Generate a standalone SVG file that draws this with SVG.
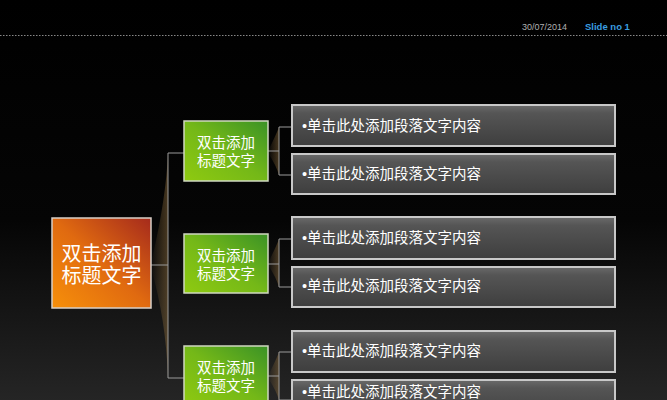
<svg xmlns="http://www.w3.org/2000/svg" width="667" height="400" viewBox="0 0 667 400">
<defs>
<linearGradient id="bg" x1="0" y1="0" x2="0" y2="1">
<stop offset="0" stop-color="#000"/><stop offset="0.55" stop-color="#050505"/><stop offset="1" stop-color="#252525"/>
</linearGradient>
<linearGradient id="org" x1="0" y1="1" x2="1" y2="0">
<stop offset="0" stop-color="#f7900a"/><stop offset="0.5" stop-color="#e06a10"/><stop offset="1" stop-color="#a52a1c"/>
</linearGradient>
<linearGradient id="grn" x1="0" y1="1" x2="1" y2="0">
<stop offset="0" stop-color="#8fca10"/><stop offset="0.5" stop-color="#74b818"/><stop offset="1" stop-color="#3a9226"/>
</linearGradient>
<linearGradient id="gry" x1="0" y1="0" x2="0" y2="1">
<stop offset="0" stop-color="#6a6a6a"/><stop offset="0.2" stop-color="#555"/><stop offset="1" stop-color="#3e3e3e"/>
</linearGradient>
<linearGradient id="glow" x1="0" y1="0" x2="1" y2="0">
<stop offset="0" stop-color="#8a6a3a" stop-opacity="0"/><stop offset="1" stop-color="#8a6a3a" stop-opacity="0.5"/>
</linearGradient>
</defs>
<style>
.t{font-family:"Liberation Sans","Noto Sans CJK SC",sans-serif;fill:#fff;}
.cb{fill:url(#gry);stroke:#c8c8c8;stroke-width:2;}
.gb{fill:url(#grn);stroke:#cfd8c0;stroke-width:1.5;}
.ln{fill:none;stroke:#9a9a9a;stroke-width:1;}
</style>
<rect width="667" height="400" fill="url(#bg)"/>
<g id="header">
<text x="522" y="30" font-family="Liberation Sans, sans-serif" font-size="9" fill="#b0b0b0">30/07/2014</text>
<text x="585" y="30" font-family="Liberation Sans, sans-serif" font-size="9.5" font-weight="bold" fill="#3a9ee0">Slide no 1</text>
<line x1="0" y1="35.5" x2="667" y2="35.5" stroke="#888" stroke-width="1" stroke-dasharray="1.5,1.5"/>
</g>
<g id="glows">
<path d="M151 263 Q166 200 168 153 L168 378 Q166 320 151 268 Z" fill="url(#glow)"/>
<path d="M268 151 Q276 135 279 127 L279 175 Q276 165 268 153 Z" fill="url(#glow)"/>
<path d="M268 263 Q276 247 279 239 L279 287 Q276 277 268 265 Z" fill="url(#glow)"/>
<path d="M268 376 Q276 360 279 352 L279 400 Q276 390 268 378 Z" fill="url(#glow)"/>
</g>
<g id="connectors">
<path class="ln" d="M151 265 H168 M184 153 H168 V378 H184"/>
<path class="ln" d="M268 151 H279 M292 127 H279 V175 H292"/>
<path class="ln" d="M268 264 H279 M292 239 H279 V287 H292"/>
<path class="ln" d="M268 376 H279 M292 352 H279 V400 H292"/>
</g>
<g id="main">
<rect x="52" y="218" width="99" height="90" fill="url(#org)" stroke="#d8d0c8" stroke-width="1.5"/>
<text class="t" x="101.5" y="261" font-size="20" text-anchor="middle">双击添加</text>
<text class="t" x="101.5" y="283" font-size="20" text-anchor="middle">标题文字</text>
</g>
<g id="title1">
<rect class="gb" x="184" y="121" width="84" height="60"/>
<text class="t" x="226" y="148" font-size="14.5" text-anchor="middle">双击添加</text>
<text class="t" x="226" y="165.5" font-size="14.5" text-anchor="middle">标题文字</text>
</g>
<g id="title2">
<rect class="gb" x="184" y="234" width="84" height="59"/>
<text class="t" x="226" y="261" font-size="14.5" text-anchor="middle">双击添加</text>
<text class="t" x="226" y="278.5" font-size="14.5" text-anchor="middle">标题文字</text>
</g>
<g id="title3">
<rect class="gb" x="184" y="346" width="84" height="60"/>
<text class="t" x="226" y="373" font-size="14.5" text-anchor="middle">双击添加</text>
<text class="t" x="226" y="390.5" font-size="14.5" text-anchor="middle">标题文字</text>
</g>
<g id="item1"><rect class="cb" x="292" y="105" width="323" height="41"/><text class="t" x="302" y="131" font-size="14.5">•单击此处添加段落文字内容</text></g>
<g id="item2"><rect class="cb" x="292" y="154" width="323" height="40"/><text class="t" x="302" y="179" font-size="14.5">•单击此处添加段落文字内容</text></g>
<g id="item3"><rect class="cb" x="292" y="217" width="323" height="42"/><text class="t" x="302" y="243" font-size="14.5">•单击此处添加段落文字内容</text></g>
<g id="item4"><rect class="cb" x="292" y="267" width="323" height="40"/><text class="t" x="302" y="291" font-size="14.5">•单击此处添加段落文字内容</text></g>
<g id="item5"><rect class="cb" x="292" y="331" width="323" height="41"/><text class="t" x="302" y="356" font-size="14.5">•单击此处添加段落文字内容</text></g>
<g id="item6"><rect class="cb" x="292" y="380" width="323" height="40"/><text class="t" x="302" y="397" font-size="14.5">•单击此处添加段落文字内容</text></g>
</svg>
